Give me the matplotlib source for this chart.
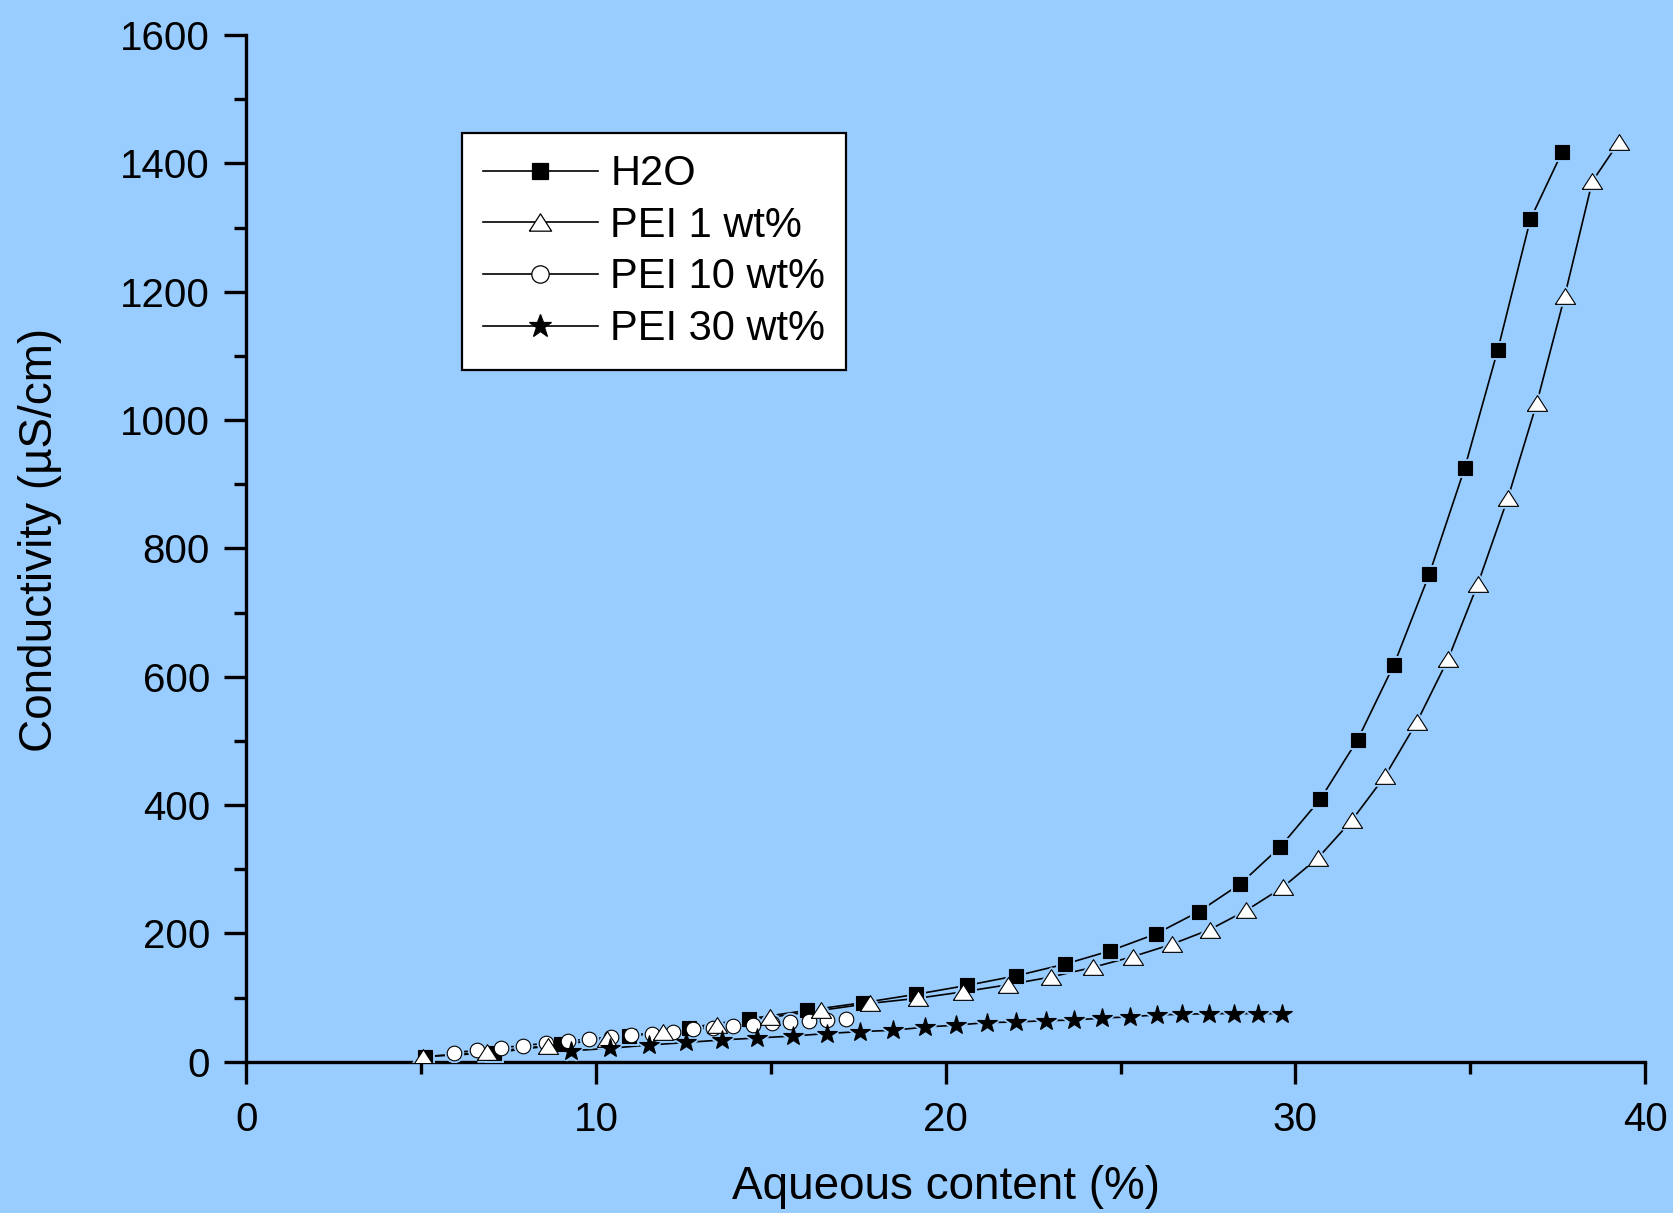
import numpy as np
import matplotlib
matplotlib.use("Agg")
import matplotlib.pyplot as plt
from matplotlib.lines import Line2D

plt.rcParams['font.family'] = ['Liberation Sans', 'DejaVu Sans']

# data
h2o_x = [5.1, 7.08, 9.0, 10.94, 12.66, 14.38, 16.03, 17.63, 19.14, 20.61, 22.02, 23.40,
         24.71, 26.0, 27.24, 28.42, 29.57, 30.71, 31.78, 32.82, 33.83, 34.84, 35.79, 36.72, 37.63]
h2o_y = [8, 14, 27, 40, 53, 67, 80, 92, 105, 119, 134, 152,
         173, 199, 234, 277, 335, 409, 502, 619, 760, 925, 1110, 1313, 1418]

pei1_x = [5.06, 6.88, 8.62, 10.3, 11.9, 13.47, 14.96, 16.42, 17.84, 19.21, 20.5, 21.78,
          23.0, 24.2, 25.36, 26.46, 27.55, 28.6, 29.64, 30.65, 31.61, 32.56, 33.47, 34.37,
          35.22, 36.08, 36.9, 37.7, 38.49, 39.26]
pei1_y = [8, 15, 25, 35, 46, 58, 69, 80, 91, 99, 109, 120,
          132, 147, 164, 183, 206, 236, 272, 318, 376, 445, 529, 628,
          745, 879, 1026, 1193, 1372, 1434]

pei10_x = [5.94, 6.6, 7.27, 7.92, 8.56, 9.19, 9.8, 10.44, 11.0, 11.6, 12.21, 12.77,
           13.35, 13.91, 14.48, 15.03, 15.56, 16.09, 16.61, 17.14]
pei10_y = [14, 18, 22, 25, 29, 33, 35, 39, 42, 44, 47, 51,
           53, 56, 58, 61, 62, 63, 65, 67]

pei30_x = [9.27, 10.4, 11.5, 12.57, 13.6, 14.6, 15.62, 16.6, 17.56, 18.5, 19.4, 20.29,
           21.17, 22.02, 22.86, 23.67, 24.47, 25.26, 26.03, 26.77, 27.52, 28.24, 28.93, 29.63]
pei30_y = [17, 21, 26, 30, 34, 37, 40, 44, 47, 49, 54, 57,
           61, 62, 64, 65, 68, 70, 73, 74, 75, 75, 75, 75]

labels = ['H2O', 'PEI 1 wt%', 'PEI 10 wt%', 'PEI 30 wt%']

bg = '#99ccff'
tri = [(-1, -0.78), (1, -0.78), (0, 0.78), (-1, -0.78)]

# (x, y, marker, face, size, legend size, label) -- drawing order H2O, PEI 10, PEI 1, PEI 30
series = [
    (h2o_x, h2o_y, 's', 'black', 9.8, 12, labels[0]),
    (pei10_x, pei10_y, 'o', 'white', 10.5, 12.5, labels[2]),
    (pei1_x, pei1_y, tri, 'white', 14.5, 16, labels[1]),
    (pei30_x, pei30_y, '*', 'black', 15, 17, labels[3]),
]

fig = plt.figure(figsize=(16.73, 12.13), dpi=100, facecolor=bg)
ax = fig.add_axes([0.1473, 0.1247, 0.836, 0.8463], facecolor=bg)

for x, y, m, fc, ms, lms, lab in series:
    ax.plot(x, y, color='black', lw=1.2, zorder=2)
    # gap round the markers, like the original software
    ax.plot(x, y, ls='none', marker=m, ms=ms, mfc=bg, mec=bg, mew=3.5, zorder=3)
for i, (x, y, m, fc, ms, lms, lab) in enumerate(series):
    ax.plot(x, y, ls='none', marker=m, ms=ms, mfc=fc, mec='black', mew=0.8, zorder=4 + i)

ax.set_xlim(0, 40)
ax.set_ylim(0, 1600)
ax.set_xticks([0, 10, 20, 30, 40])
ax.set_xticks([5, 15, 25, 35], minor=True)
ax.set_yticks(np.arange(0, 1601, 200))
ax.set_yticks(np.arange(100, 1600, 200), minor=True)

for s in ['top', 'right']:
    ax.spines[s].set_visible(False)
for s in ['left', 'bottom']:
    ax.spines[s].set_linewidth(2.4)
ax.tick_params(which='major', direction='out', length=15.8, width=2.4, labelsize=29)
ax.tick_params(axis='y', which='major', pad=10.5)
ax.tick_params(axis='x', which='major', pad=12.5)
ax.tick_params(which='minor', direction='out', length=8.6, width=2.4)

ax.set_xlabel('Aqueous content (%)', fontsize=33)
ax.set_ylabel('Conductivity (\u00b5S/cm)', fontsize=33)
ax.xaxis.set_label_coords(0.5, -0.101)
ax.yaxis.set_label_coords(-0.132, 0.508)

handles = []
for lab in labels:
    x, y, m, fc, ms, lms, _ = [s for s in series if s[6] == lab][0]
    handles.append(Line2D([], [], color='black', lw=1.2, marker=m, ms=lms,
                          mfc=fc, mec='black', mew=0.9))
leg = ax.legend(handles, labels, loc='upper left', bbox_to_anchor=(0.154, 0.9044),
                borderaxespad=0, fontsize=30, handlelength=2.76, handletextpad=0.3,
                labelspacing=0.28, borderpad=0.5, fancybox=False, framealpha=1,
                edgecolor='black', numpoints=1)
leg.get_frame().set_linewidth(1.6)
leg.set_zorder(10)

fig.savefig('out.png', dpi=100, facecolor=bg)
